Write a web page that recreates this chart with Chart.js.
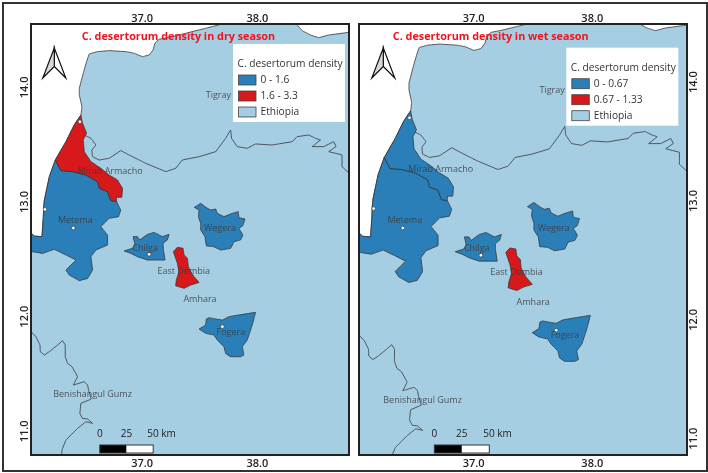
<!DOCTYPE html>
<html>
<head>
<meta charset="utf-8">
<title>C. desertorum density</title>
<script src="https://cdn.jsdelivr.net/npm/chart.js@4"></script>
<style>
  body { margin: 0; background: #fff; }
  #frame { position: absolute; left: 2px; top: 2px; width: 702px; height: 466px; border: 2px solid #333; }
  canvas { position: absolute; top: 0; }
  #dry { left: 0; }
  #wet { left: 354px; }
</style>
</head>
<body>
<div id="frame"></div>
<canvas id="dry" width="354" height="473"></canvas>
<canvas id="wet" width="354" height="473"></canvas>
<script>
// Axis ticks
const lonTicks = [37, 38];
const latTicks = [11, 12, 13, 14];

// Legend
const legendTitle = 'C. desertorum density';
const dryClasses = ['0 - 1.6', '1.6 - 3.3', 'Ethiopia'];
const wetClasses = ['0 - 0.67', '0.67 - 1.33', 'Ethiopia'];

// Place names
const placeNames = ['Tigray', 'Mirab Armacho', 'Metema', 'Chilga', 'Wegera', 'East Dembia', 'Amhara', 'Fogera', 'Benishangul Gumz'];
const placeLon = [37.661, 36.723, 36.420, 37.026, 37.675, 37.361, 37.502, 37.770, 36.570];
const placeLat = [13.927, 13.267, 12.837, 12.599, 12.770, 12.398, 12.150, 11.865, 11.325];

// Outlines, [lon, lat]
const ethiopia = [[35.935, 10.7], [35.935, 12.703], [36.045, 12.721], [36.065, 12.703], [36.131, 12.698], [36.143, 12.872], [36.146, 12.959],
  [36.152, 13.017], [36.195, 13.221], [36.247, 13.366], [36.339, 13.526], [36.411, 13.672], [36.469, 13.759],
  [36.478, 13.831], [36.455, 13.933], [36.455, 13.991], [36.489, 14.122], [36.518, 14.224], [36.541, 14.291], [36.613, 14.311], [36.714, 14.320],
  [36.859, 14.311], [36.931, 14.297], [37.003, 14.267], [37.061, 14.282], [37.095, 14.326], [37.110, 14.384], [37.147, 14.419], [37.234, 14.436],
  [37.378, 14.471], [37.551, 14.515], [37.667, 14.544], [37.681, 14.552], [37.681, 14.616], [38.330, 14.616], [38.345, 14.544], [38.388, 14.494],
  [38.460, 14.456], [38.532, 14.433], [38.619, 14.456], [38.798, 14.480], [38.937, 14.480], [38.937, 10.7], [35.935, 10.7]];

const tigrayBorder = [[36.498, 13.584], [36.556, 13.555], [36.599, 13.497], [36.564, 13.453], [36.570, 13.395], [36.628, 13.366], [36.714, 13.381],
  [36.815, 13.448], [36.887, 13.410], [36.974, 13.366], [37.032, 13.337], [37.205, 13.265], [37.291, 13.294], [37.349, 13.366], [37.494, 13.395], [37.638, 13.439],
  [37.724, 13.555], [37.768, 13.628], [37.776, 13.555], [37.825, 13.483], [37.912, 13.468], [37.984, 13.506], [38.128, 13.497], [38.302, 13.526],
  [38.345, 13.570], [38.446, 13.584], [38.504, 13.555], [38.547, 13.541], [38.475, 13.483], [38.576, 13.483], [38.662, 13.526], [38.682, 13.483],
  [38.619, 13.439], [38.734, 13.410], [38.734, 13.308], [38.798, 13.250], [38.937, 13.221]];

const benishangulBorder = [[35.990, 11.880], [36.036, 11.869], [36.079, 11.825], [36.114, 11.753], [36.117, 11.695], [36.152, 11.666], [36.195, 11.695],
  [36.267, 11.753], [36.310, 11.791], [36.333, 11.753], [36.333, 11.651], [36.353, 11.593], [36.391, 11.564], [36.440, 11.477], [36.403, 11.404],
  [36.498, 11.433], [36.527, 11.404], [36.535, 11.360], [36.558, 11.282], [36.469, 11.244], [36.460, 11.157], [36.483, 11.113], [36.527, 11.108],
  [36.570, 11.070], [36.512, 11.084], [36.440, 11.026], [36.382, 10.968], [36.339, 10.924], [36.304, 10.837], [36.302, 10.779], [36.296, 10.727]];

const metema = [[36.247, 13.366], [36.296, 13.273], [36.397, 13.265], [36.512, 13.235], [36.613, 13.177], [36.628, 13.119], [36.700, 13.090],
  [36.729, 13.012], [36.778, 13.003], [36.815, 12.930], [36.795, 12.872], [36.714, 12.858], [36.642, 12.785], [36.700, 12.712], [36.700, 12.625],
  [36.599, 12.581], [36.556, 12.523], [36.570, 12.407], [36.527, 12.334], [36.455, 12.314], [36.368, 12.363], [36.339, 12.407], [36.426, 12.494],
  [36.339, 12.538], [36.238, 12.587], [36.137, 12.552], [36.045, 12.567], [35.935, 12.567], [35.935, 12.703], [36.045, 12.721], [36.065, 12.703],
  [36.131, 12.698], [36.143, 12.872], [36.146, 12.959], [36.152, 13.017], [36.195, 13.221], [36.247, 13.366]];

const mirabArmacho = [[36.469, 13.759], [36.483, 13.686], [36.518, 13.599], [36.489, 13.541], [36.498, 13.439], [36.556, 13.352], [36.642, 13.294],
  [36.714, 13.235], [36.786, 13.192], [36.830, 13.119], [36.824, 13.041], [36.778, 13.041], [36.778, 13.003], [36.729, 13.012], [36.700, 13.090],
  [36.628, 13.119], [36.613, 13.177], [36.512, 13.235], [36.397, 13.265], [36.296, 13.273], [36.247, 13.366], [36.339, 13.526], [36.411, 13.672],
  [36.469, 13.759]];

const chilga = [[36.922, 12.698], [36.960, 12.698], [36.980, 12.669], [37.046, 12.718], [37.104, 12.735], [37.176, 12.698], [37.234, 12.718],
  [37.219, 12.669], [37.182, 12.640], [37.185, 12.581], [37.199, 12.494], [37.133, 12.494], [37.046, 12.494], [36.960, 12.523], [36.902, 12.552],
  [36.844, 12.573], [36.916, 12.596], [36.939, 12.625], [36.922, 12.698]];

const eastDembia = [[37.271, 12.567], [37.306, 12.605], [37.355, 12.596], [37.364, 12.538], [37.393, 12.509], [37.401, 12.436], [37.430, 12.378],
  [37.450, 12.349], [37.494, 12.299], [37.422, 12.276], [37.364, 12.247], [37.291, 12.270], [37.297, 12.320], [37.320, 12.392], [37.306, 12.465],
  [37.286, 12.523], [37.271, 12.567]];

const wegera = [[37.453, 12.953], [37.508, 12.988], [37.557, 12.951], [37.595, 12.930], [37.638, 12.939], [37.652, 12.901], [37.710, 12.872],
  [37.782, 12.901], [37.834, 12.916], [37.840, 12.863], [37.892, 12.852], [37.874, 12.794], [37.840, 12.770], [37.874, 12.712], [37.854, 12.669],
  [37.797, 12.654], [37.768, 12.596], [37.681, 12.581], [37.623, 12.610], [37.557, 12.616], [37.545, 12.698], [37.508, 12.756], [37.508, 12.814],
  [37.488, 12.872], [37.494, 12.930], [37.453, 12.953]];

const fogera = [[37.984, 12.038], [37.926, 12.029], [37.840, 12.015], [37.753, 12.000], [37.696, 11.971], [37.638, 11.980], [37.580, 11.991],
  [37.557, 11.980], [37.551, 11.927], [37.494, 11.892], [37.551, 11.855], [37.623, 11.840], [37.652, 11.797], [37.710, 11.738], [37.724, 11.680],
  [37.767, 11.651], [37.854, 11.651], [37.883, 11.666], [37.869, 11.738], [37.912, 11.797], [37.955, 11.927], [37.984, 12.038]];

const lakes = [[36.157, 12.936], [36.403, 12.773], [36.460, 13.700], [37.696, 11.913], [37.061, 12.544]];

// Colours
const paleBlue = '#a6cee3';
const blue = '#2b7fb8';
const red = '#d7191c';
const line = '#333';
const kmPerBar = [0, 25, 50];
const degPerKm = 0.00926;

const toXY = pts => pts.map(p => ({ x: p[0], y: p[1] }));
// small tension keeps Chart.js off its fast path, which merges points sharing a pixel column
const area = (pts, color) => ({ data: toXY(pts), showLine: true, fill: 'shape', backgroundColor: color, borderColor: line, borderWidth: 0.8, pointRadius: 0, tension: 0.01 });
const border = pts => ({ data: toXY(pts), showLine: true, fill: false, borderColor: line, borderWidth: 0.8, pointRadius: 0, tension: 0.01 });

function overlay(p) {
  return {
    id: 'overlay',
    afterDatasetsDraw(chart) {
      const { ctx, chartArea, scales } = chart;
      ctx.save();

      // place names
      ctx.font = '9px "Open Sans"';
      ctx.fillStyle = 'rgba(60,60,60,0.85)';
      ctx.textAlign = 'center';
      ctx.textBaseline = 'middle';
      placeNames.forEach((name, i) => {
        ctx.fillText(name, scales.x.getPixelForValue(placeLon[i]), scales.y.getPixelForValue(placeLat[i]));
      });

      // title
      ctx.font = 'bold 10.8px "Open Sans"';
      ctx.fillStyle = '#f0141e';
      ctx.fillText(p.title, p.titleX, 36.5);

      // north arrow
      const ax = p.arrowX;
      ctx.lineWidth = 1.2;
      ctx.strokeStyle = '#111';
      ctx.fillStyle = '#fff';
      ctx.beginPath(); ctx.moveTo(ax, 48); ctx.lineTo(ax + 11.5, 78); ctx.lineTo(ax, 66.5); ctx.closePath(); ctx.fill(); ctx.stroke();
      ctx.fillStyle = '#d8d8d8';
      ctx.beginPath(); ctx.moveTo(ax, 48); ctx.lineTo(ax - 11.5, 78); ctx.lineTo(ax, 66.5); ctx.closePath(); ctx.fill(); ctx.stroke();

      // legend box
      const lx = p.legendX, ly = p.legendY;
      ctx.fillStyle = '#fff';
      ctx.fillRect(lx, ly, 112, 78);
      ctx.font = '10.2px "Open Sans"';
      ctx.textAlign = 'left';
      ctx.fillStyle = '#333';
      ctx.fillText(legendTitle, lx + 4.5, ly + 20);
      const colors = [blue, red, paleBlue];
      p.classes.forEach((label, i) => {
        const sy = ly + 31 + i * 16;
        ctx.fillStyle = colors[i];
        ctx.fillRect(lx + 5.5, sy, 17.5, 10);
        ctx.strokeStyle = '#444';
        ctx.lineWidth = 0.8;
        ctx.strokeRect(lx + 5.5, sy, 17.5, 10);
        ctx.fillStyle = '#333';
        ctx.fillText(label, lx + 27.5, sy + 5.5);
      });

      // scale bar
      const barX = km => scales.x.getPixelForValue(p.barLon + km * degPerKm);
      const barTop = chartArea.bottom - 10;
      ctx.fillStyle = '#000';
      ctx.fillRect(barX(0), barTop, barX(25) - barX(0), 8);
      ctx.fillStyle = '#fff';
      ctx.fillRect(barX(25), barTop, barX(50) - barX(25), 8);
      ctx.strokeStyle = '#333';
      ctx.lineWidth = 1;
      ctx.strokeRect(barX(0), barTop, barX(50) - barX(0), 8);
      ctx.font = '10px "Open Sans"';
      ctx.fillStyle = '#222';
      ctx.textAlign = 'center';
      ctx.fillText(String(kmPerBar[0]), barX(0), chartArea.bottom - 21);
      ctx.fillText(String(kmPerBar[1]), barX(25), chartArea.bottom - 21);
      ctx.textAlign = 'left';
      ctx.fillText(kmPerBar[2] + ' km', barX(50) - 6, chartArea.bottom - 21);

      ctx.restore();
    }
  };
}

function axis(p, position, values, min, max, size, showLabels) {
  const vertical = position === 'left' || position === 'right';
  const pad = { left: -5, right: -4, top: -1, bottom: 2.5 };
  return {
    type: 'linear',
    position,
    min,
    max,
    afterBuildTicks: s => { s.ticks = values.map(v => ({ value: v })); },
    afterFit: s => { if (vertical) s.width = size; else s.height = size; },
    grid: { display: false, drawTicks: false },
    border: { display: true, color: '#222', width: 2, z: 1 },
    ticks: {
      display: showLabels,
      autoSkip: false,
      minRotation: vertical ? 90 : 0,
      maxRotation: vertical ? 90 : 0,
      crossAlign: vertical ? 'center' : 'near',
      padding: pad[position],
      color: '#222',
      font: { family: '"Open Sans"', size: 11, weight: '600' },
      callback: v => Number(v).toFixed(1)
    }
  };
}

function drawPanel(id, p) {
  new Chart(document.getElementById(id), {
    type: 'scatter',
    data: {
      datasets: [
        { data: toXY(lakes), backgroundColor: '#fff', borderColor: line, borderWidth: 0.6, pointRadius: 1.8 },
        area(eastDembia, red),
        area(mirabArmacho, p.mirabColor),
        area(metema, blue),
        area(chilga, blue),
        area(wegera, blue),
        area(fogera, blue),
        border(tigrayBorder),
        border(benishangulBorder),
        area(ethiopia, paleBlue)
      ]
    },
    options: {
      responsive: false,
      animation: false,
      events: [],
      layout: { padding: 0 },
      plugins: { legend: { display: false }, tooltip: { enabled: false } },
      scales: {
        x: axis(p, 'bottom', lonTicks, p.lonMin, p.lonMax, 18, true),
        xTop: axis(p, 'top', lonTicks, p.lonMin, p.lonMax, 24, true),
        y: axis(p, 'left', latTicks, p.latMin, p.latMax, p.leftW, p.labelsLeft),
        yRight: axis(p, 'right', latTicks, p.latMin, p.latMax, p.rightW, !p.labelsLeft)
      }
    },
    plugins: [overlay(p)]
  });
}

drawPanel('dry', {
  title: 'C. desertorum density in dry season', titleX: 178.5, arrowX: 54.3,
  lonMin: 36.036, lonMax: 38.798, latMin: 10.794, latMax: 14.552,
  leftW: 31, rightW: 3, labelsLeft: true, mirabColor: red,
  legendX: 233, legendY: 44, classes: dryClasses, barLon: 36.633
});

drawPanel('wet', {
  title: 'C. desertorum density in wet season', titleX: 136.7, arrowX: 29.3,
  lonMin: 36.034, lonMax: 38.798, latMin: 10.863, latMax: 14.489,
  leftW: 5, rightW: 21, labelsLeft: false, mirabColor: blue,
  legendX: 212.3, legendY: 47.7, classes: wetClasses, barLon: 36.669
});
</script>
</body>
</html>
